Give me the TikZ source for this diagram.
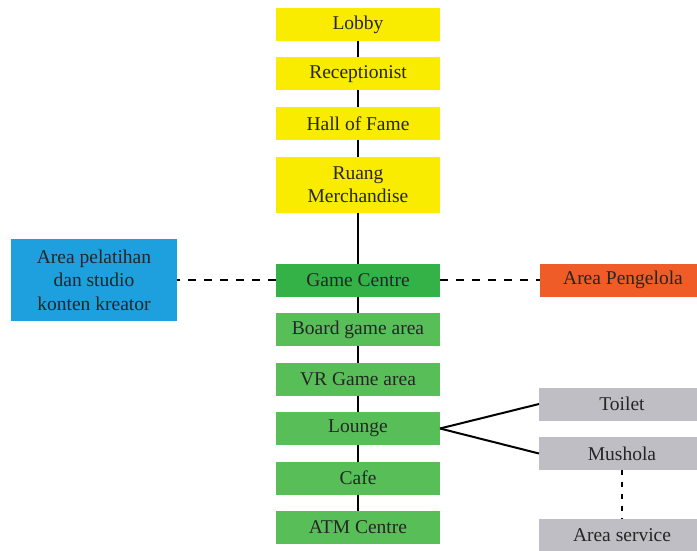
\documentclass[tikz,border=0pt]{standalone}
\usepackage{fontspec}
\setmainfont{Liberation Serif}
\usetikzlibrary{positioning}

\definecolor{zoneyellow}{RGB}{250,236,0}
\definecolor{zonegreen}{RGB}{52,178,72}
\definecolor{zonelight}{RGB}{88,190,88}
\definecolor{zoneblue}{RGB}{30,160,222}
\definecolor{zoneorange}{RGB}{240,92,40}
\definecolor{zonegrey}{RGB}{190,190,196}

\begin{document}
\begin{tikzpicture}[x=1pt,y=-1pt,node distance = 16.5pt,line width=2pt]
\tikzstyle{v}=[rectangle,minimum width=164pt,minimum height=33pt,inner sep=0pt,outer sep=0pt,align=center,font=\fontsize{19.5}{23.5}\selectfont,text=black!85]
\tikzstyle{side}=[v,minimum width=166pt]
\tikzstyle{dashlink}=[dashed,dash pattern=on 8pt off 8pt,line width=2.5pt]
\useasboundingbox (0,0) rectangle (697,551);
\node[v, fill=zoneyellow] 	(lobby)  	at (358,24.5)		{Lobby};
\node[v, fill=zoneyellow] 	(recep)  	[below = of lobby]		{Receptionist};
\node[v, fill=zoneyellow] 	(hall)  	[below = of recep]		{Hall of Fame};
\node[v, fill=zoneyellow, minimum height=56pt] 	(merch)  	[below = of hall]		{Ruang\\Merchandise};
\node[v, fill=zonegreen] 	(game)  	[below = 51pt of merch]		{Game Centre};
\node[v, fill=zonelight] 	(board)  	[below = of game]		{Board game area};
\node[v, fill=zonelight] 	(vr)  	[below = of board]		{VR Game area};
\node[v, fill=zonelight] 	(lounge)  	[below = of vr]		{Lounge};
\node[v, fill=zonelight] 	(cafe)  	[below = of lounge]		{Cafe};
\node[v, fill=zonelight] 	(atm)  	[below = of cafe]		{ATM Centre};
\node[side, fill=zoneblue, minimum height=82pt] 	(studio)  	[left = 99pt of game]		{Area pelatihan\\dan studio\\konten kreator};
\node[side, fill=zoneorange] 	(kelola)  	[right = 100pt of game]		{Area Pengelola};
\node[side, fill=zonegrey, yshift=24.5pt] 	(toilet)  	[right = 99pt of lounge]		{Toilet};
\node[side, fill=zonegrey, yshift=-25pt] 	(mushola)  	[right = 99pt of lounge]		{Mushola};
\node[side, fill=zonegrey] 	(service)  	[below = 49pt of mushola]		{Area service};
\path(lobby)	edge		(recep)
	 (recep)	edge		(hall)
	 (hall)	edge		(merch)
	 (merch)	edge		(game)
	 (game)	edge		(board)
	 (board)	edge		(vr)
	 (vr)	edge		(lounge)
	 (lounge)	edge		(cafe)
	 (cafe)	edge		(atm)
	 (lounge.east)	edge		(toilet.west)
	 (lounge.east)	edge		(mushola.west);
\path[dashlink](game)	edge		(studio)
	 (game)	edge		(kelola);
\path[dashed,dash pattern=on 5pt off 7pt,line width=2.5pt](mushola)	edge		(service);
\end{tikzpicture}
\end{document}
